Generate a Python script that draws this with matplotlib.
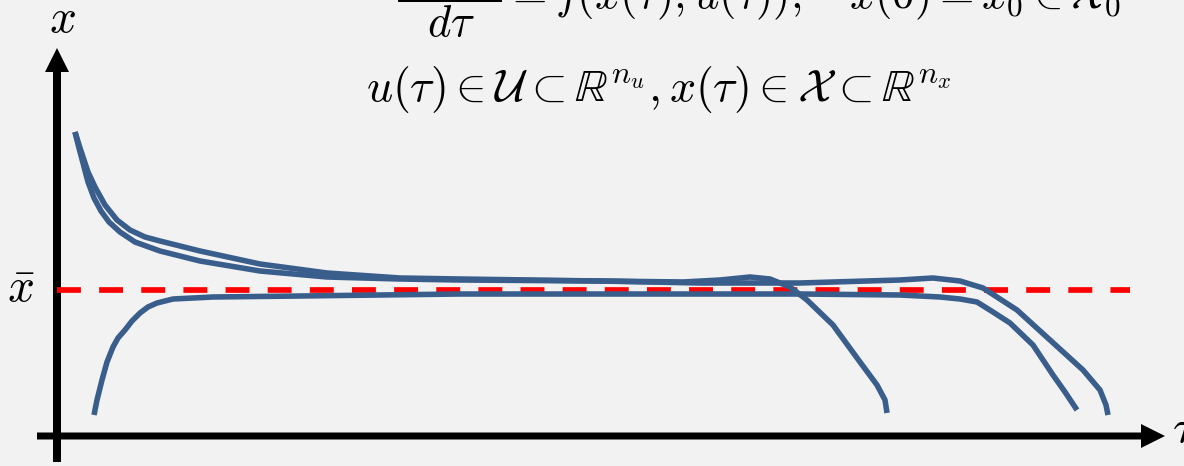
import numpy as np
import matplotlib
matplotlib.use("Agg")
import matplotlib.pyplot as plt

plt.rcParams['mathtext.fontset'] = 'cm'

# trajectories x(tau), sketched in plot units (origin where the axes cross)
tau_a = [37, 40, 45, 50, 56, 61, 68, 75, 83, 91, 100, 116, 156, 243, 403, 543, 743,
         843, 883, 903, 920, 936, 953, 976, 996, 1008, 1020]
x_a = [21, 36, 56, 74, 89, 98, 106, 115, 123, 129, 133, 137, 139, 140, 142, 142, 142,
       141, 139, 137, 134, 124, 113, 91, 61, 44, 26]

tau_b = [18, 22, 26, 31, 37, 44, 52, 63, 78, 103, 143, 203, 270, 343, 403, 543, 626,
         663, 693, 713, 733, 750, 776, 803, 820, 828, 830]
x_b = [304, 288, 273, 254, 238, 225, 214, 204, 194, 185, 175, 165, 159, 157, 156, 155, 154,
       156, 159, 157, 149, 136, 111, 74, 51, 36, 23]

tau_c = [18, 23, 27, 31, 38, 48, 60, 73, 88, 103, 143, 203, 270, 343, 403, 543, 643,
         743, 843, 876, 903, 926, 960, 993, 1026, 1043, 1049, 1051]
x_c = [304, 288, 276, 264, 249, 231, 216, 206, 199, 195, 185, 172, 163, 158, 157, 155, 153,
       153, 156, 158, 155, 148, 126, 96, 66, 46, 31, 21]

# reference level x_bar
x_bar = 146
tau_end = 1073

blue = '#3A5E8C'

fig = plt.figure(figsize=(11.84, 4.66), dpi=100, facecolor='#F2F2F2')
ax = fig.add_axes([0, 0, 1, 1])
ax.set_facecolor('#F2F2F2')
ax.set_xlim(-57, 1127)
ax.set_ylim(-30, 436)
ax.axis('off')

# axes with arrow heads
ax.arrow(0, -26, 0, 414, width=8, head_width=24, head_length=24,
         length_includes_head=True, fc='black', ec='none')
ax.arrow(-20, 0, 1128, 0, width=7, head_width=24, head_length=24,
         length_includes_head=True, fc='black', ec='none')

ax.plot([0, tau_end], [x_bar, x_bar], color='red', lw=4.1,
        linestyle=(0, (4.2, 3.2)), zorder=2)

for t, x in [(tau_a, x_a), (tau_b, x_b), (tau_c, x_c)]:
    ax.plot(t, x, color=blue, lw=4.0, solid_joinstyle='round',
            solid_capstyle='butt', zorder=3)

ax.text(5, 404, r'$x$', fontsize=34, ha='center', va='baseline')
ax.text(-36, 134, r'$\bar{x}$', fontsize=34, ha='center', va='baseline')
ax.text(1115, -6, r'$\tau$', fontsize=34, ha='left', va='baseline')

ax.text(340, 427, r'$\dfrac{dx(\tau)}{d\tau} = f(x(\tau), u(\tau)),\quad x(0) = x_0 \in \mathcal{X}_0$',
        fontsize=32, ha='left', va='baseline')
ax.text(309, 335, r'$u(\tau) \in \mathcal{U} \subset ℝ^{n_u}, x(\tau) \in \mathcal{X} \subset ℝ^{n_x}$',
        fontsize=33, ha='left', va='baseline')

fig.savefig('out.png', dpi=100, facecolor=fig.get_facecolor())
